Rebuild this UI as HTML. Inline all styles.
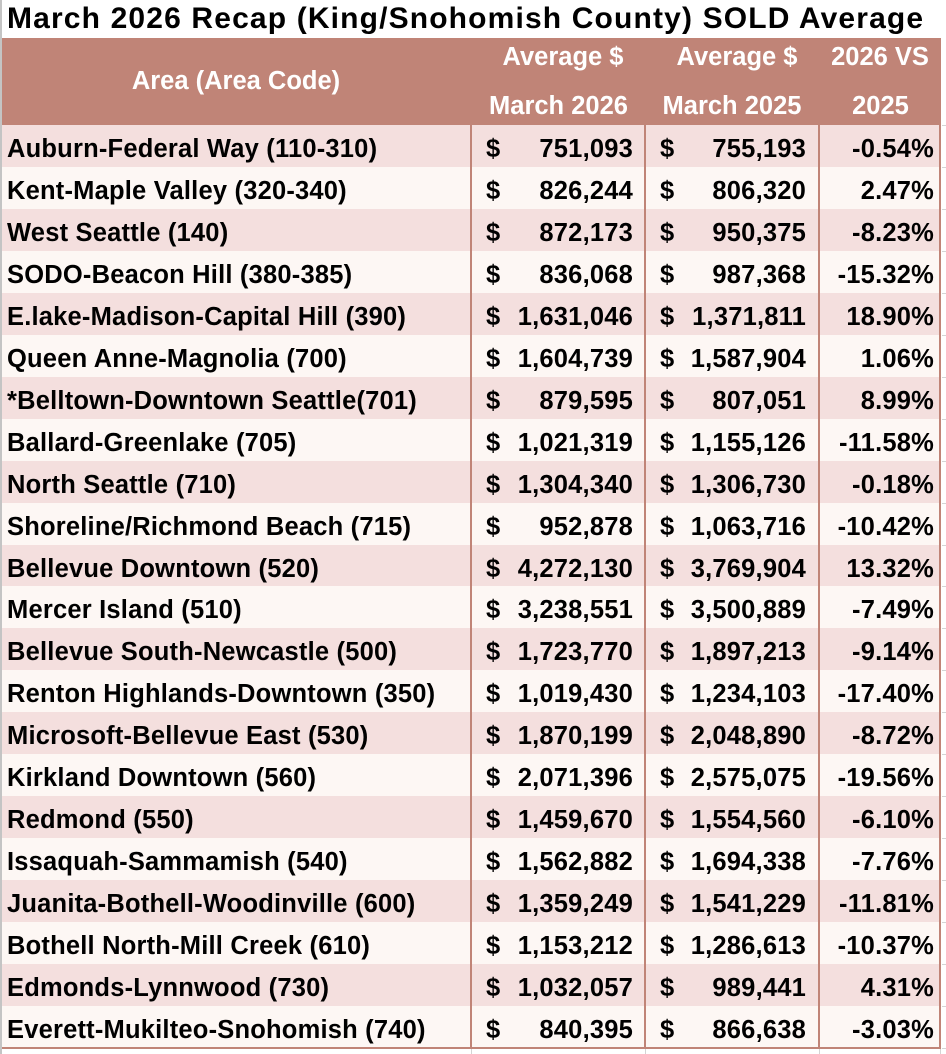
<!DOCTYPE html>
<html><head><meta charset="utf-8"><style>
*{margin:0;padding:0;box-sizing:border-box}
html,body{width:946px;height:1054px;overflow:hidden;background:#fff}
body{position:relative;font-family:"Liberation Sans",Arial,sans-serif;font-weight:bold}
.abs{position:absolute}
.title{position:absolute;left:7px;top:0;line-height:38px;font-size:30px;letter-spacing:1.15px;color:#000;white-space:nowrap}
.hdr{position:absolute;left:2px;top:38px;width:939px;height:87px;background:#c08477}
.ht{position:absolute;width:240px;text-align:center;font-size:25.5px;line-height:30px;color:#fff;white-space:nowrap}
.r{position:absolute;left:2px;width:939px}
.p{background:#f4dfde}
.w{background:#fdf7f4}
.r span{position:absolute;top:9px;line-height:30px;font-size:25.5px;color:#000;white-space:nowrap;letter-spacing:0.2px}
.a{left:5px}
.d1{left:484px}
.n1{right:308px}
.d2{left:658px}
.n2{right:135px}
.pc{right:7px}
.vl{position:absolute;top:125px;height:924px;width:2px;background:#c08477}
.g{position:absolute;background:#d4d4d4}
</style></head><body>
<div class="g" style="left:0;top:0;width:2px;height:1054px;background:#c4c4c4"></div>
<div class="title">March 2026 Recap (King/Snohomish County) SOLD Average</div>
<div class="hdr"></div>
<div class="ht" style="left:116px;top:66px">Area (Area Code)</div>
<div class="ht" style="left:443px;top:42px">Average $</div>
<div class="ht" style="left:438.5px;top:91px">March 2026</div>
<div class="ht" style="left:617px;top:42px">Average $</div>
<div class="ht" style="left:612px;top:91px">March 2025</div>
<div class="ht" style="left:760px;top:42px">2026 VS</div>
<div class="ht" style="left:760.5px;top:91px">2025</div>

<div class="r p" style="top:125px;height:42px"><span class="a">Auburn-Federal Way (110-310)</span><span class="d1">$</span><span class="n1">751,093</span><span class="d2">$</span><span class="n2">755,193</span><span class="pc">-0.54%</span></div>
<div class="r w" style="top:167px;height:42px"><span class="a">Kent-Maple Valley (320-340)</span><span class="d1">$</span><span class="n1">826,244</span><span class="d2">$</span><span class="n2">806,320</span><span class="pc">2.47%</span></div>
<div class="r p" style="top:209px;height:42px"><span class="a">West Seattle (140)</span><span class="d1">$</span><span class="n1">872,173</span><span class="d2">$</span><span class="n2">950,375</span><span class="pc">-8.23%</span></div>
<div class="r w" style="top:251px;height:42px"><span class="a">SODO-Beacon Hill (380-385)</span><span class="d1">$</span><span class="n1">836,068</span><span class="d2">$</span><span class="n2">987,368</span><span class="pc">-15.32%</span></div>
<div class="r p" style="top:293px;height:42px"><span class="a">E.lake-Madison-Capital Hill (390)</span><span class="d1">$</span><span class="n1">1,631,046</span><span class="d2">$</span><span class="n2">1,371,811</span><span class="pc">18.90%</span></div>
<div class="r w" style="top:335px;height:42px"><span class="a">Queen Anne-Magnolia (700)</span><span class="d1">$</span><span class="n1">1,604,739</span><span class="d2">$</span><span class="n2">1,587,904</span><span class="pc">1.06%</span></div>
<div class="r p" style="top:377px;height:42px"><span class="a">*Belltown-Downtown Seattle(701)</span><span class="d1">$</span><span class="n1">879,595</span><span class="d2">$</span><span class="n2">807,051</span><span class="pc">8.99%</span></div>
<div class="r w" style="top:419px;height:42px"><span class="a">Ballard-Greenlake (705)</span><span class="d1">$</span><span class="n1">1,021,319</span><span class="d2">$</span><span class="n2">1,155,126</span><span class="pc">-11.58%</span></div>
<div class="r p" style="top:461px;height:42px"><span class="a">North Seattle (710)</span><span class="d1">$</span><span class="n1">1,304,340</span><span class="d2">$</span><span class="n2">1,306,730</span><span class="pc">-0.18%</span></div>
<div class="r w" style="top:503px;height:42px"><span class="a">Shoreline/Richmond Beach (715)</span><span class="d1">$</span><span class="n1">952,878</span><span class="d2">$</span><span class="n2">1,063,716</span><span class="pc">-10.42%</span></div>
<div class="r p" style="top:545px;height:41px"><span class="a">Bellevue Downtown (520)</span><span class="d1">$</span><span class="n1">4,272,130</span><span class="d2">$</span><span class="n2">3,769,904</span><span class="pc">13.32%</span></div>
<div class="r w" style="top:586px;height:42px"><span class="a">Mercer Island (510)</span><span class="d1">$</span><span class="n1">3,238,551</span><span class="d2">$</span><span class="n2">3,500,889</span><span class="pc">-7.49%</span></div>
<div class="r p" style="top:628px;height:42px"><span class="a">Bellevue South-Newcastle (500)</span><span class="d1">$</span><span class="n1">1,723,770</span><span class="d2">$</span><span class="n2">1,897,213</span><span class="pc">-9.14%</span></div>
<div class="r w" style="top:670px;height:42px"><span class="a">Renton Highlands-Downtown (350)</span><span class="d1">$</span><span class="n1">1,019,430</span><span class="d2">$</span><span class="n2">1,234,103</span><span class="pc">-17.40%</span></div>
<div class="r p" style="top:712px;height:42px"><span class="a">Microsoft-Bellevue East (530)</span><span class="d1">$</span><span class="n1">1,870,199</span><span class="d2">$</span><span class="n2">2,048,890</span><span class="pc">-8.72%</span></div>
<div class="r w" style="top:754px;height:42px"><span class="a">Kirkland Downtown (560)</span><span class="d1">$</span><span class="n1">2,071,396</span><span class="d2">$</span><span class="n2">2,575,075</span><span class="pc">-19.56%</span></div>
<div class="r p" style="top:796px;height:42px"><span class="a">Redmond (550)</span><span class="d1">$</span><span class="n1">1,459,670</span><span class="d2">$</span><span class="n2">1,554,560</span><span class="pc">-6.10%</span></div>
<div class="r w" style="top:838px;height:42px"><span class="a">Issaquah-Sammamish (540)</span><span class="d1">$</span><span class="n1">1,562,882</span><span class="d2">$</span><span class="n2">1,694,338</span><span class="pc">-7.76%</span></div>
<div class="r p" style="top:880px;height:42px"><span class="a">Juanita-Bothell-Woodinville (600)</span><span class="d1">$</span><span class="n1">1,359,249</span><span class="d2">$</span><span class="n2">1,541,229</span><span class="pc">-11.81%</span></div>
<div class="r w" style="top:922px;height:42px"><span class="a">Bothell North-Mill Creek (610)</span><span class="d1">$</span><span class="n1">1,153,212</span><span class="d2">$</span><span class="n2">1,286,613</span><span class="pc">-10.37%</span></div>
<div class="r p" style="top:964px;height:42px"><span class="a">Edmonds-Lynnwood (730)</span><span class="d1">$</span><span class="n1">1,032,057</span><span class="d2">$</span><span class="n2">989,441</span><span class="pc">4.31%</span></div>
<div class="r w" style="top:1006px;height:42px"><span class="a">Everett-Mukilteo-Snohomish (740)</span><span class="d1">$</span><span class="n1">840,395</span><span class="d2">$</span><span class="n2">866,638</span><span class="pc">-3.03%</span></div>

<div class="vl" style="left:470px"></div>
<div class="vl" style="left:644px"></div>
<div class="vl" style="left:818px"></div>
<div class="vl" style="left:939px"></div>
<div class="abs" style="left:2px;top:1047px;width:939px;height:2px;background:#c08477"></div>

<div class="g" style="left:942px;top:125px;width:4px;height:1px"></div>
<div class="g" style="left:942px;top:167px;width:4px;height:1px"></div>
<div class="g" style="left:942px;top:209px;width:4px;height:1px"></div>
<div class="g" style="left:942px;top:251px;width:4px;height:1px"></div>
<div class="g" style="left:942px;top:293px;width:4px;height:1px"></div>
<div class="g" style="left:942px;top:335px;width:4px;height:1px"></div>
<div class="g" style="left:942px;top:377px;width:4px;height:1px"></div>
<div class="g" style="left:942px;top:419px;width:4px;height:1px"></div>
<div class="g" style="left:942px;top:461px;width:4px;height:1px"></div>
<div class="g" style="left:942px;top:503px;width:4px;height:1px"></div>
<div class="g" style="left:942px;top:545px;width:4px;height:1px"></div>
<div class="g" style="left:942px;top:586px;width:4px;height:1px"></div>
<div class="g" style="left:942px;top:628px;width:4px;height:1px"></div>
<div class="g" style="left:942px;top:670px;width:4px;height:1px"></div>
<div class="g" style="left:942px;top:712px;width:4px;height:1px"></div>
<div class="g" style="left:942px;top:754px;width:4px;height:1px"></div>
<div class="g" style="left:942px;top:796px;width:4px;height:1px"></div>
<div class="g" style="left:942px;top:838px;width:4px;height:1px"></div>
<div class="g" style="left:942px;top:880px;width:4px;height:1px"></div>
<div class="g" style="left:942px;top:922px;width:4px;height:1px"></div>
<div class="g" style="left:942px;top:964px;width:4px;height:1px"></div>
<div class="g" style="left:942px;top:1006px;width:4px;height:1px"></div>
<div class="g" style="left:942px;top:1048px;width:4px;height:1px"></div>
<div class="g" style="left:471px;top:1049px;width:1px;height:5px"></div>
<div class="g" style="left:645px;top:1049px;width:1px;height:5px"></div>
<div class="g" style="left:819px;top:1049px;width:1px;height:5px"></div>
<div class="g" style="left:940px;top:1049px;width:1px;height:5px"></div>
</body></html>
